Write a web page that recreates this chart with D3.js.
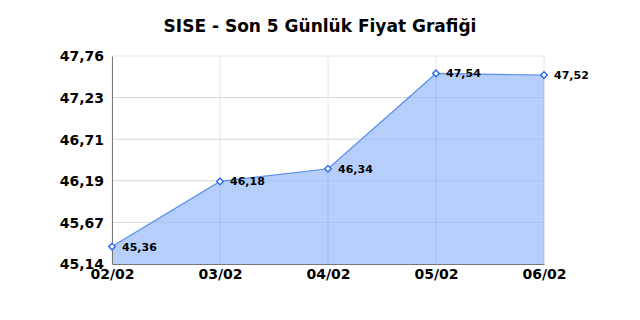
<!DOCTYPE html>
<html>
<head>
<meta charset="utf-8">
<script src="https://cdn.jsdelivr.net/npm/d3@7"></script>
<style>
  body { margin: 0; background: #fff; }
  svg { display: block; font-family: "DejaVu Sans", sans-serif; }
</style>
</head>
<body>
<svg width="640" height="320"></svg>
<script>
// chart data
var days = ["02/02", "03/02", "04/02", "05/02", "06/02"];
var prices = [45.36, 46.18, 46.34, 47.54, 47.52];
var yTickLabels = ["45,14", "45,67", "46,19", "46,71", "47,23", "47,76"];
var yMin = 45.14, yMax = 47.76;

var svg = d3.select("svg"),
    margin = {top: 56, right: 96, bottom: 56, left: 112},
    width = 640 - margin.left - margin.right,
    height = 320 - margin.top - margin.bottom;

svg.append("text")
    .attr("x", 320)
    .attr("y", 32)
    .attr("text-anchor", "middle")
    .style("font-weight", "bold")
    .style("font-size", "17px")
    .text("SISE - Son 5 Günlük Fiyat Grafiği");

var g = svg.append("g")
    .attr("transform", "translate(" + margin.left + "," + margin.top + ")");

var x = d3.scalePoint().domain(days).range([0, width]);
var y = d3.scaleLinear().domain([yMin, yMax]).range([height, 0]);

var yTicks = yTickLabels.map(function(d, i) {
    return yMin + (yMax - yMin) * i / (yTickLabels.length - 1);
});

var data = days.map(function(d, i) { return {day: d, v: prices[i]}; });

// background grid
g.selectAll(".hgrid")
    .data(yTicks)
    .enter().append("line")
    .attr("x1", 0).attr("x2", width)
    .attr("y1", function(d) { return y(d); })
    .attr("y2", function(d) { return y(d); })
    .style("stroke", "#e6e6e6");

g.selectAll(".vgrid")
    .data(days)
    .enter().append("line")
    .attr("x1", function(d) { return x(d); })
    .attr("x2", function(d) { return x(d); })
    .attr("y1", 0).attr("y2", height)
    .style("stroke", "#e6e6e6");

var area = d3.area()
    .x(function(d) { return x(d.day); })
    .y0(height)
    .y1(function(d) { return y(d.v); });

g.append("path")
    .datum(data)
    .attr("d", area)
    .style("fill", "#b5cefa");

// grid seen through the area
g.selectAll(".hgrid2")
    .data(yTicks.slice(1, -1))
    .enter().append("line")
    .attr("x1", 0).attr("x2", width)
    .attr("y1", function(d) { return y(d); })
    .attr("y2", function(d) { return y(d); })
    .style("stroke", "rgba(90,120,190,0.12)");

g.selectAll(".vgrid2")
    .data(days.slice(1))
    .enter().append("line")
    .attr("x1", function(d) { return x(d); })
    .attr("x2", function(d) { return x(d); })
    .attr("y1", function(d, i) { return y(prices[i + 1]); })
    .attr("y2", height)
    .style("stroke", "rgba(90,120,190,0.15)");

var line = d3.line()
    .x(function(d) { return x(d.day); })
    .y(function(d) { return y(d.v); });

g.append("path")
    .datum(data)
    .attr("d", line)
    .style("fill", "none")
    .style("stroke", "#5b8ff0")
    .style("stroke-width", 1.2);

// axes
var yAxis = g.append("g")
    .call(d3.axisLeft(y).tickValues(yTicks).tickSize(0).tickPadding(8)
        .tickFormat(function(d, i) { return yTickLabels[i]; }));
yAxis.select(".domain").style("stroke", "#777");
yAxis.selectAll("text")
    .style("font-family", "DejaVu Sans")
    .style("font-size", "14px")
    .style("font-weight", "bold")
    .style("fill", "#000")
    .attr("dy", "0.35em");

var xAxis = g.append("g")
    .attr("transform", "translate(0," + height + ")")
    .call(d3.axisBottom(x).tickSize(0).tickPadding(5));
xAxis.select(".domain").style("stroke", "#777");
xAxis.selectAll("text")
    .style("font-family", "DejaVu Sans")
    .style("font-size", "14px")
    .style("font-weight", "bold")
    .style("fill", "#000");

// markers and labels
g.selectAll(".dot")
    .data(data)
    .enter().append("path")
    .attr("d", d3.symbol().type(d3.symbolSquare).size(22))
    .attr("transform", function(d) { return "translate(" + x(d.day) + "," + y(d.v) + ") rotate(45)"; })
    .style("fill", "#fff")
    .style("stroke", "#2f6fe8")
    .style("stroke-width", 1.5)
    .style("stroke-linejoin", "round");

g.selectAll(".lbl")
    .data(data)
    .enter().append("text")
    .attr("x", function(d) { return x(d.day) + 10; })
    .attr("y", function(d) { return y(d.v) + 4; })
    .style("font-size", "11px")
    .style("font-weight", "bold")
    .text(function(d) { return d3.format(".2f")(d.v).replace(".", ","); });
</script>
</body>
</html>
